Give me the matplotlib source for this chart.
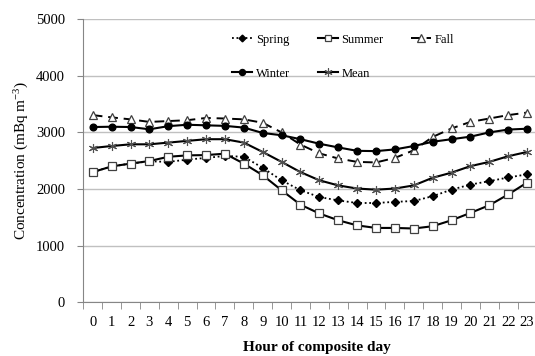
import matplotlib
matplotlib.use("Agg")
import matplotlib.pyplot as plt
import numpy as np

plt.rcParams['font.family'] = ['Liberation Serif', 'DejaVu Serif']
plt.rcParams['mathtext.fontset'] = 'custom'
plt.rcParams['mathtext.rm'] = 'Liberation Serif'
plt.rcParams['mathtext.it'] = 'Liberation Serif:italic'

hours = list(range(24))

spring = [2300, 2400, 2450, 2490, 2480, 2520, 2550, 2585, 2570, 2375, 2155, 1980,
          1860, 1800, 1755, 1755, 1775, 1790, 1875, 1990, 2080, 2140, 2205, 2260]
summer = [2300, 2400, 2450, 2495, 2570, 2595, 2600, 2625, 2450, 2245, 1980, 1725,
          1570, 1450, 1360, 1315, 1315, 1305, 1345, 1450, 1580, 1715, 1905, 2115]
fall = [3305, 3265, 3230, 3185, 3200, 3215, 3255, 3245, 3230, 3170, 3000, 2785,
        2630, 2540, 2480, 2470, 2550, 2685, 2920, 3070, 3185, 3245, 3305, 3350]
winter = [3095, 3100, 3095, 3055, 3110, 3135, 3125, 3115, 3085, 2990, 2950, 2880,
          2800, 2735, 2675, 2670, 2700, 2760, 2835, 2880, 2925, 3000, 3050, 3065]
mean = [2725, 2760, 2790, 2790, 2820, 2850, 2880, 2880, 2820, 2655, 2480, 2300,
        2155, 2065, 2010, 1990, 2010, 2065, 2200, 2290, 2405, 2480, 2580, 2655]

fig = plt.figure(figsize=(5.35, 3.56), dpi=100)
ax = fig.add_axes([0.1557, 0.1503, 0.8471, 0.7963])

x = np.array(hours)
l_spring, = ax.plot(x, spring, color='black', lw=1.3, ls=(0, (1, 1.5)), marker='D',
                    ms=3.8, mfc='black', mec='black', label='Spring')
l_summer, = ax.plot(x, summer, color='black', lw=1.5, marker='s', ms=5.2,
                    mfc='white', mec='#404040', mew=0.9, label='Summer')
l_fall, = ax.plot(x, fall, color='black', lw=1.4, ls=(0, (5, 3)), marker='^',
                  ms=6, mfc='white', mec='#404040', mew=0.9, label='Fall')
l_winter, = ax.plot(x, winter, color='black', lw=1.5, marker='o', ms=4.8,
                    mfc='black', mec='black', label='Winter')
l_mean, = ax.plot(x, mean, color='black', lw=1.5, marker=(6, 2, 0), ms=6.5,
                  mec='#505050', mew=0.8, label='Mean')

ax.set_xlim(-0.5, 23.5)
ax.set_ylim(0, 5000)
ax.set_yticks(range(0, 5001, 1000))
ax.set_xticks(hours)
ax.set_xticks(np.arange(-0.5, 24, 1), minor=True)
ax.tick_params(axis='x', which='major', length=0, pad=10, labelsize=10.5)
ax.tick_params(axis='x', which='minor', length=5, color='#868686', direction='out')
ax.tick_params(axis='y', length=4, color='#868686', pad=9, labelsize=10.5)
ax.yaxis.grid(True, color='#c0c0c0', lw=1)
ax.set_axisbelow(True)
for s in ['top', 'right']:
    ax.spines[s].set_visible(False)
for s in ['left', 'bottom']:
    ax.spines[s].set_color('#868686')

ax.set_ylabel('Concentration (mBq m$^{-3}$)', fontsize=11, labelpad=4)
fig.text(0.593, 0.024, 'Hour of composite day', ha='center', va='center',
         fontsize=11, fontweight='bold')

handles = [l_spring, l_winter, l_summer, l_mean, l_fall]
fig.legend(handles=handles, labels=[h.get_label() for h in handles], ncol=3,
           loc='upper left', bbox_to_anchor=(0.434, 0.905), frameon=False,
           fontsize=9, handlelength=1.6, handletextpad=0.3, columnspacing=2.2,
           labelspacing=1.75, borderpad=0, borderaxespad=0, markerscale=0.9)

fig.savefig('out.png', dpi=100)
